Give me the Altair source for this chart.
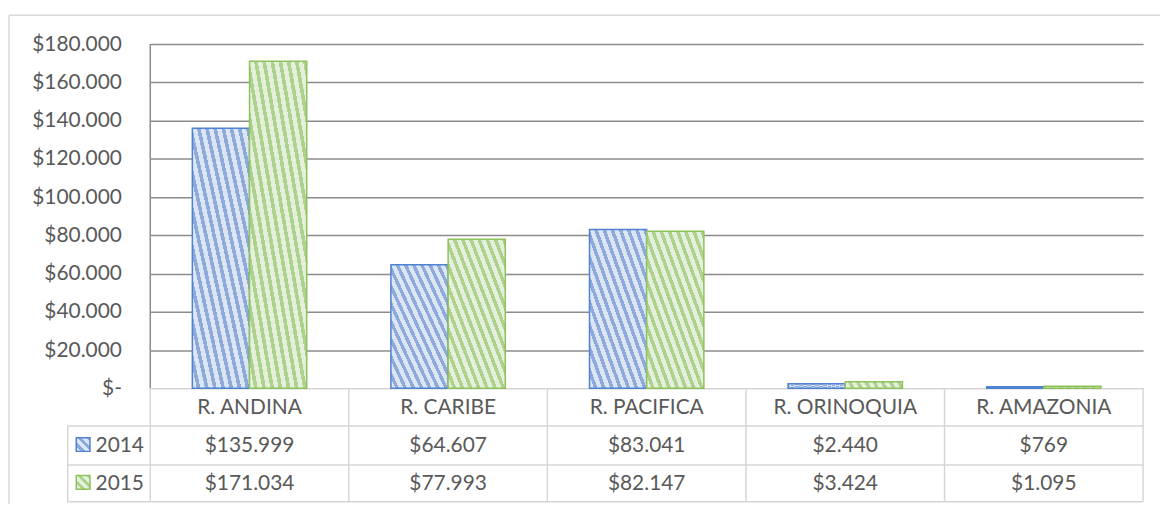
import altair as alt
import pandas as pd

regions = ["R. ANDINA", "R. CARIBE", "R. PACIFICA", "R. ORINOQUIA", "R. AMAZONIA"]
years = ["2014", "2015"]
values_2014 = [135999, 64607, 83041, 2440, 769]
values_2015 = [171034, 77993, 82147, 3424, 1095]
y_ticks = [0, 20000, 40000, 60000, 80000, 100000, 120000, 140000, 160000, 180000]

df = pd.DataFrame({
    "region": regions * 2,
    "year": [years[0]] * len(regions) + [years[1]] * len(regions),
    "value": values_2014 + values_2015,
})
reg_df = pd.DataFrame({"region": regions})
yr_df = pd.DataFrame({"year": years})
one = pd.DataFrame({"k": [0]})

W, H = 998, 346
FONT = "Lato"
FS = 21
TXT = "#595959"
GRID = "#8c8c8c"
TABLE = "#d6d6d6"
FRAME = "#d9d9d9"
BLUE_STROKE = "#4f82d2"
GREEN_STROKE = "#8fc25b"
BLUE_BG, BLUE_FG = "#dce5f4", "#8eaadb"
GREEN_BG, GREEN_FG = "#e4f0db", "#acd28e"


def hatch(bg, fg, n, frac=0.45):
    stops = []
    for k in range(n):
        a = k / n
        b = (k + 1 - frac) / n
        c = (k + 1) / n
        stops += [
            {"color": bg, "offset": round(a, 5)},
            {"color": bg, "offset": round(b, 5)},
            {"color": fg, "offset": round(b, 5)},
            {"color": fg, "offset": round(c, 5)},
        ]
    return {"gradient": "linear", "x1": 0, "y1": 1, "x2": 1, "y2": 0, "stops": stops}


x_scale = alt.Scale(domain=regions, paddingInner=0, paddingOuter=0)
off_scale = alt.Scale(domain=years, paddingInner=0, paddingOuter=0.736)

y_axis = alt.Axis(
    values=y_ticks,
    labelExpr="datum.value == 0 ? '$-' : '$' + replace(format(datum.value, ','), ',', '.')",
    grid=True,
    gridColor={"condition": {"test": "datum.value === 0", "value": TABLE}, "value": GRID},
    gridWidth=1.5,
    ticks=False,
    domain=False,
    labelPadding=29,
    labelFont=FONT,
    labelFontSize=FS,
    labelColor=TXT,
    title=None,
)
y_enc = alt.Y("value:Q", scale=alt.Scale(domain=[0, 180000], nice=False), axis=y_axis)
x_enc = alt.X("region:N", scale=x_scale, axis=None)

# outer frame
frame_top = alt.Chart(one).mark_rule(color=FRAME, strokeWidth=1.5).encode(
    x=alt.value(-142), x2=alt.value(W + 60), y=alt.value(-29))
frame_left = alt.Chart(one).mark_rule(color=FRAME, strokeWidth=1.5).encode(
    x=alt.value(-142), y=alt.value(-29), y2=alt.value(H + 200))

bars = []
for yr, bg, fg, st in [(years[0], BLUE_BG, BLUE_FG, BLUE_STROKE), (years[1], GREEN_BG, GREEN_FG, GREEN_STROKE)]:
    bars.append(
        alt.Chart(df).transform_filter(f"datum.year == '{yr}'")
        .mark_bar(fill=hatch(bg, fg, 14), stroke=st, strokeWidth=1.5)
        .encode(x=x_enc, xOffset=alt.XOffset("year:N", scale=off_scale), y=y_enc)
    )

# plot left axis line
axis_line = alt.Chart(one).mark_rule(color=GRID, strokeWidth=1.5).encode(
    x=alt.value(0), y=alt.value(0), y2=alt.value(H))

# table lines
row_lines = [
    alt.Chart(one).mark_rule(color=TABLE, strokeWidth=1.5).encode(
        x=alt.value(-83), x2=alt.value(W), y=alt.value(yy))
    for yy in (384, 423, 460)
]
v_left = alt.Chart(one).mark_rule(color=TABLE, strokeWidth=1.5).encode(
    x=alt.value(-83), y=alt.value(384), y2=alt.value(460))
v_zero = alt.Chart(one).mark_rule(color=TABLE, strokeWidth=1.5).encode(
    x=alt.value(0), y=alt.value(H), y2=alt.value(460))
v_bands = alt.Chart(reg_df).mark_rule(color=TABLE, strokeWidth=1.5).encode(
    x=alt.X("region:N", scale=x_scale, axis=None, bandPosition=1),
    y=alt.value(H), y2=alt.value(460))

header = alt.Chart(reg_df).mark_text(font=FONT, fontSize=FS, color=TXT).encode(
    x=alt.X("region:N", scale=x_scale, axis=None, bandPosition=0.5),
    y=alt.value(366), text="region:N")

rows = []
for yr, yy, bg, fg, st in [(years[0], 404, BLUE_BG, BLUE_FG, BLUE_STROKE), (years[1], 442, GREEN_BG, GREEN_FG, GREEN_STROKE)]:
    rows.append(
        alt.Chart(df).transform_filter(f"datum.year == '{yr}'")
        .transform_calculate(label="'$' + replace(format(datum.value, ','), ',', '.')")
        .mark_text(font=FONT, fontSize=FS, color=TXT)
        .encode(x=alt.X("region:N", scale=x_scale, axis=None, bandPosition=0.5),
                y=alt.value(yy), text="label:N")
    )
    rows.append(
        alt.Chart(yr_df).transform_filter(f"datum.year == '{yr}'")
        .mark_text(font=FONT, fontSize=FS, color=TXT, align="left")
        .encode(x=alt.value(-55), y=alt.value(yy), text="year:N")
    )
    rows.append(
        alt.Chart(yr_df).transform_filter(f"datum.year == '{yr}'")
        .mark_square(size=190, fill=hatch(bg, fg, 3), stroke=st, strokeWidth=1.5, opacity=1)
        .encode(x=alt.value(-67.5), y=alt.value(yy - 1.5))
    )

chart = alt.layer(
    frame_top, frame_left, *bars, axis_line, *row_lines, v_left, v_zero, v_bands, header, *rows
).properties(
    width=W, height=H,
    padding={"left": 143, "top": 35, "right": 17, "bottom": 115},
    autosize=alt.AutoSizeParams(type="none"),
).configure_view(stroke=None)

chart.save("out.html", embed_options={"renderer": "svg", "actions": False})
